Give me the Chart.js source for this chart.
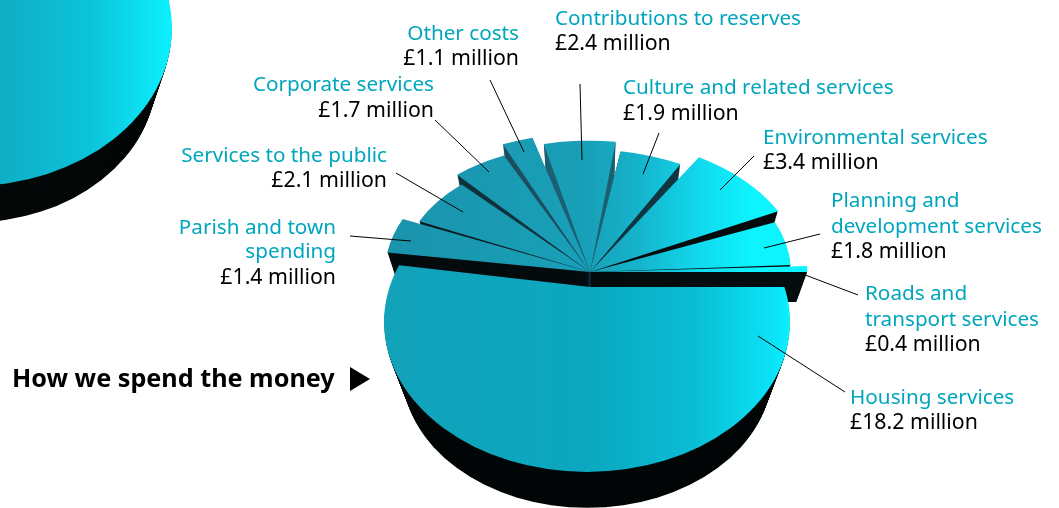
<!DOCTYPE html>
<html><head><meta charset="utf-8">
<style>html,body{margin:0;padding:0;background:#fff;overflow:hidden}
#wrap{position:relative;width:1059px;height:508px}
canvas{position:absolute;left:0;top:0}</style>
<script src="https://cdn.jsdelivr.net/npm/chart.js@4/dist/chart.umd.js"></script>
</head><body><div id="wrap"><canvas id="side" width="1059" height="508"></canvas><canvas id="main" width="1059" height="508"></canvas></div>
<script>
const categories=['Housing services','Parish and town spending','Services to the public','Corporate services','Other costs','Contributions to reserves','Culture and related services','Environmental services','Planning and development services','Roads and transport services'];
const valuesMillion=[18.2,1.4,2.1,1.7,1.1,2.4,1.9,3.4,1.8,0.4];
const valueLabels=['£18.2 million','£1.4 million','£2.1 million','£1.7 million','£1.1 million','£2.4 million','£1.9 million','£3.4 million','£1.8 million','£0.4 million'];
const heading='How we spend the money';

// Presentation only
const TEAL='#00a6bd', FONT='"Noto Sans"';
const reach=[1,1,.92,.99,1.07,1.01,.94,1.03,.98,1.06];            // outward pull of each slice
const trimStart=[0,-1.8,0,2,1.7,.7,-2.4,-.3,0,1.7];                // visual gap, degrees
const trimEnd=[0,1.1,0,0,1.6,4.4,3.4,4,-1,0];
const sideColors=['#030707','#060c0e','#0a1a20','#10323c','#1b4f5f','#1d6073','#0f3540','#060c0e','#060c0e','#060c0e'];
const paintOrder=[5,4,6,3,7,2,8,1,9,0];
const labelLayout=[
 [[categories[0]],850,[404],'left',429],
 [['Parish and town','spending'],336,[234,258],'right',284],
 [[categories[2]],387,[162],'right',187],
 [[categories[3]],434,[91],'right',117],
 [[categories[4]],519,[40],'right',65],
 [[categories[5]],555,[25],'left',50],
 [[categories[6]],623,[94],'left',120],
 [[categories[7]],763,[144],'left',169],
 [['Planning and','development services'],831,[207,233],'left',258],
 [['Roads and','transport services'],865,[300,326],'left',351]
];
const leaders=[[845,392,758,336],[350,236,411,241],[396,173,463,212],[435,120,489,172],[490,80,524,152],[580,84,582,160],[659,133,643,174],[754,156,720,190],[820,234,764,248],[858,295,800,273]];
const upperStops=[[0,'#1b93ac'],[.5,'#18a0b8'],[.62,'#15b4cc'],[.78,'#10dcf0'],[.9,'#0ef4ff'],[1,'#0ef4ff']];
const lowerStops=[[0,'#12a2ba'],[.5,'#0ba8c0'],[.75,'#09bdd4'],[.95,'#0be4f8'],[1,'#0cf4ff']];
const upper={px:590,py:272,rx:205,ry:130,vx:590,vy:870,depth:.05,g0:385,g1:795};
const lower={px:590,py:287,rx:300,ry:186,vx:590,vy:870,depth:.09,g0:385,g1:795,clip:[587,322,203,150]};
const DEG=Math.PI/180, LAYERS=40;

function paintArc(ctx,arc,G,s,fill,scale,t0,t1){
  ctx.save();
  if(s!==1){ctx.translate(G.vx,G.vy);ctx.scale(s,s);ctx.translate(-G.vx,-G.vy);}
  if(G.clip){ctx.beginPath();ctx.ellipse(G.clip[0],G.clip[1],G.clip[2],G.clip[3],0,0,Math.PI*2);ctx.clip();}
  const R=arc.outerRadius;
  ctx.translate(G.px,G.py);ctx.scale(G.rx/R,G.ry/R);ctx.translate(-arc.x,-arc.y);
  let style=fill;
  if(Array.isArray(fill)){
    const wx=sx=>arc.x+(sx-G.px)*R/G.rx;
    style=ctx.createLinearGradient(wx(G.g0),0,wx(G.g1),0);
    fill.forEach(f=>style.addColorStop(f[0],f[1]));
  }
  const saved=[arc.options,arc.outerRadius,arc.startAngle,arc.endAngle,arc.circumference];
  arc.options={backgroundColor:style,borderColor:style,borderWidth:0,offset:0,spacing:0,borderRadius:0,borderAlign:'center',borderDash:[],borderDashOffset:0,borderJoinStyle:'round',circular:true};
  arc.outerRadius=R*scale;
  arc.startAngle+=t0*DEG;arc.endAngle-=t1*DEG;arc.circumference-=(t0+t1)*DEG;
  arc.draw(ctx);
  [arc.options,arc.outerRadius,arc.startAngle,arc.endAngle,arc.circumference]=saved;
  ctx.restore();
}
const pie3d={id:'pie3d',beforeDatasetsDraw(chart){
  const ctx=chart.ctx,arcs=chart.getDatasetMeta(0).data;
  paintOrder.forEach(i=>{
    const G=i===0?lower:upper;
    for(let k=LAYERS;k>=1;k--)paintArc(ctx,arcs[i],G,1-G.depth*k/LAYERS,sideColors[i],reach[i],trimStart[i],trimEnd[i]);
    paintArc(ctx,arcs[i],G,1,i===0?lowerStops:upperStops,reach[i],trimStart[i],trimEnd[i]);
  });
  return false;
},afterDraw(chart){
  const ctx=chart.ctx;
  ctx.save();
  ctx.strokeStyle='#000';ctx.lineWidth=1;
  leaders.forEach(l=>{ctx.beginPath();ctx.moveTo(l[0],l[1]);ctx.lineTo(l[2],l[3]);ctx.stroke();});
  ctx.textBaseline='alphabetic';
  labelLayout.forEach((r,i)=>{
    ctx.textAlign=r[3];ctx.fillStyle=TEAL;ctx.font='20.7px '+FONT;
    r[0].forEach((t,j)=>ctx.fillText(t,r[1],r[2][j]));
    ctx.fillStyle='#000';ctx.font='21.3px '+FONT;ctx.fillText(valueLabels[i],r[1],r[4]);
  });
  ctx.textAlign='left';ctx.font='bold 25.2px '+FONT;ctx.fillStyle='#000';
  ctx.fillText(heading,12,387);
  ctx.beginPath();ctx.moveTo(350,367);ctx.lineTo(370,379);ctx.lineTo(350,391);ctx.closePath();ctx.fill();
  ctx.restore();
}};
const base={responsive:false,animation:false,events:[],layout:{padding:0},plugins:{legend:{display:false},tooltip:{enabled:false}}};
new Chart(document.getElementById('main'),{type:'pie',plugins:[pie3d],
  data:{labels:categories,datasets:[{data:valuesMillion,borderWidth:0,backgroundColor:TEAL}]},
  options:Object.assign({rotation:90},base)});

// Cropped neighbouring pie at the top-left corner
const neighbourLabels=['Neighbouring pie'];
const neighbourValues=[1];
const disc={px:-30,py:28,rx:202,ry:158,vx:-30,vy:644,depth:.08,g0:-30,g1:172};
new Chart(document.getElementById('side'),{type:'pie',plugins:[{id:'disc',beforeDatasetsDraw(chart){
    const arc=chart.getDatasetMeta(0).data[0];
    for(let k=LAYERS;k>=1;k--)paintArc(chart.ctx,arc,disc,1-disc.depth*k/LAYERS,'#050808',1,0,0);
    paintArc(chart.ctx,arc,disc,1,[[0,'#10a6be'],[.6,'#0cc4da'],[1,'#0cf0ff']],1,0,0);
    return false;
  }}],
  data:{labels:neighbourLabels,datasets:[{data:neighbourValues,borderWidth:0,backgroundColor:TEAL}]},
  options:base});
</script></body></html>
